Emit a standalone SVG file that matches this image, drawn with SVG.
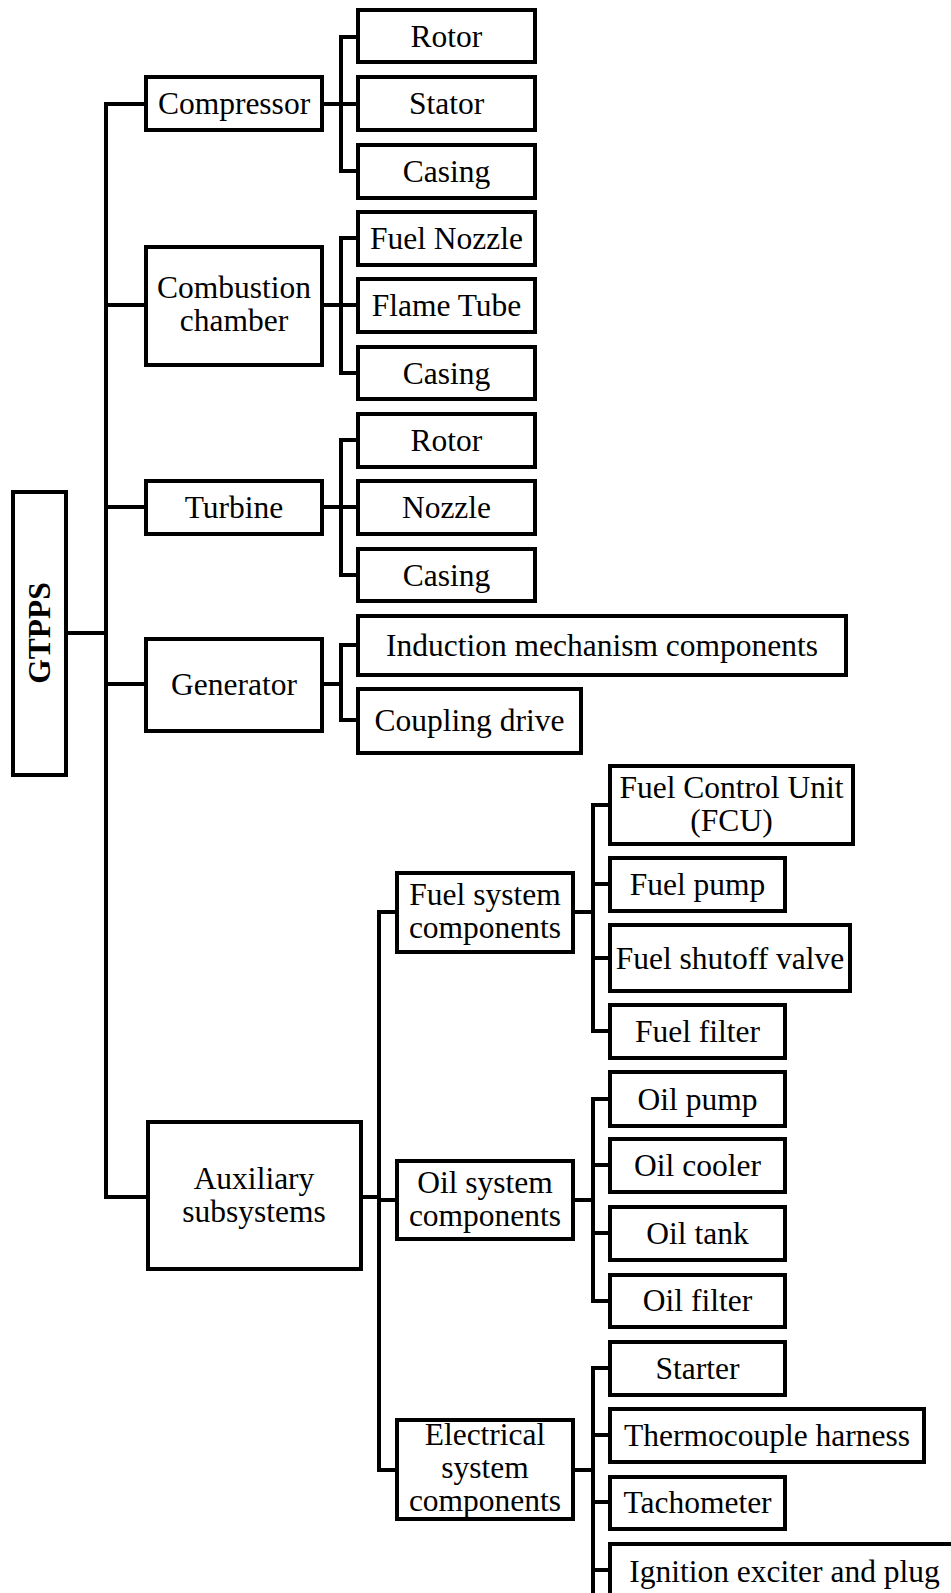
<svg xmlns="http://www.w3.org/2000/svg" width="951" height="1593" viewBox="0 0 951 1593">
  <style>
    .box { fill: #fff; stroke: #000; stroke-width: 4; }
    .lbl { font-family: "Liberation Serif", "Times New Roman", serif; font-size: 31.5px; fill: #000; text-anchor: middle; }
    .root { font-weight: bold; }
    .wire { fill: none; stroke: #000; stroke-width: 4; stroke-linecap: square; stroke-linejoin: miter; }
  </style>
  <rect width="951" height="1593" fill="#fff"/>

  <!-- tree connectors -->
  <g id="connectors" class="wire">
    <!-- root trunk -->
    <path d="M66 633H106M106 104V1197M106 104H146M106 305H146M106 507H146M106 684H146M106 1197H148"/>
    <!-- compressor -->
    <path d="M322 104H358M341 37V171M341 37H358M341 171H358"/>
    <!-- combustion chamber -->
    <path d="M322 305H358M341 238V373M341 238H358M341 373H358"/>
    <!-- turbine -->
    <path d="M322 507H358M341 440V575M341 440H358M341 575H358"/>
    <!-- generator -->
    <path d="M322 684H341M341 645V720M341 645H358M341 720H358"/>
    <!-- auxiliary subsystems -->
    <path d="M361 1197H379M379 912V1470M379 912H397M379 1200H397M379 1470H397"/>
    <!-- fuel system -->
    <path d="M573 912H593M593 805V1031M593 805H610M593 884H610M593 958H610M593 1031H610"/>
    <!-- oil system -->
    <path d="M573 1200H593M593 1099V1301M593 1099H610M593 1165H610M593 1233H610M593 1301H610"/>
    <!-- electrical system -->
    <path d="M573 1470H593M593 1368V1600M593 1368H610M593 1435H610M593 1502H610M593 1570H610"/>
  </g>

  <!-- root -->
  <g id="gtpps">
    <rect class="box" x="13" y="492" width="53" height="283"/>
    <text class="lbl root" transform="translate(50,633) rotate(-90)">GTPPS</text>
  </g>

  <!-- first level -->
  <g id="compressor">
    <rect class="box" x="146" y="77" width="176" height="53"/>
    <text class="lbl" x="234" y="114">Compressor</text>
  </g>
  <g id="combustion-chamber">
    <rect class="box" x="146" y="247" width="176" height="118"/>
    <text class="lbl" x="234" y="298">Combustion</text>
    <text class="lbl" x="234" y="331">chamber</text>
  </g>
  <g id="turbine">
    <rect class="box" x="146" y="481" width="176" height="53"/>
    <text class="lbl" x="234" y="518">Turbine</text>
  </g>
  <g id="generator">
    <rect class="box" x="146" y="639" width="176" height="92"/>
    <text class="lbl" x="234" y="695">Generator</text>
  </g>
  <g id="auxiliary-subsystems">
    <rect class="box" x="148" y="1122" width="213" height="147"/>
    <text class="lbl" x="254" y="1189">Auxiliary</text>
    <text class="lbl" x="254" y="1222">subsystems</text>
  </g>

  <!-- compressor parts -->
  <g id="compressor-rotor">
    <rect class="box" x="358" y="10" width="177" height="52"/>
    <text class="lbl" x="446.5" y="47">Rotor</text>
  </g>
  <g id="compressor-stator">
    <rect class="box" x="358" y="77" width="177" height="53"/>
    <text class="lbl" x="446.5" y="114">Stator</text>
  </g>
  <g id="compressor-casing">
    <rect class="box" x="358" y="145" width="177" height="53"/>
    <text class="lbl" x="446.5" y="182">Casing</text>
  </g>

  <!-- combustion chamber parts -->
  <g id="fuel-nozzle">
    <rect class="box" x="358" y="212" width="177" height="53"/>
    <text class="lbl" x="446.5" y="249">Fuel Nozzle</text>
  </g>
  <g id="flame-tube">
    <rect class="box" x="358" y="279" width="177" height="53"/>
    <text class="lbl" x="446.5" y="316">Flame Tube</text>
  </g>
  <g id="combustion-casing">
    <rect class="box" x="358" y="347" width="177" height="52"/>
    <text class="lbl" x="446.5" y="384">Casing</text>
  </g>

  <!-- turbine parts -->
  <g id="turbine-rotor">
    <rect class="box" x="358" y="414" width="177" height="53"/>
    <text class="lbl" x="446.5" y="451">Rotor</text>
  </g>
  <g id="turbine-nozzle">
    <rect class="box" x="358" y="481" width="177" height="53"/>
    <text class="lbl" x="446.5" y="518">Nozzle</text>
  </g>
  <g id="turbine-casing">
    <rect class="box" x="358" y="549" width="177" height="52"/>
    <text class="lbl" x="446.5" y="586">Casing</text>
  </g>

  <!-- generator parts -->
  <g id="induction-mechanism">
    <rect class="box" x="358" y="616" width="488" height="59"/>
    <text class="lbl" x="602" y="656">Induction mechanism components</text>
  </g>
  <g id="coupling-drive">
    <rect class="box" x="358" y="689" width="223" height="64"/>
    <text class="lbl" x="469.5" y="731">Coupling drive</text>
  </g>

  <!-- auxiliary second level -->
  <g id="fuel-system">
    <rect class="box" x="397" y="873" width="176" height="79"/>
    <text class="lbl" x="485" y="905">Fuel system</text>
    <text class="lbl" x="485" y="938">components</text>
  </g>
  <g id="oil-system">
    <rect class="box" x="397" y="1161" width="176" height="78"/>
    <text class="lbl" x="485" y="1193">Oil system</text>
    <text class="lbl" x="485" y="1226">components</text>
  </g>
  <g id="electrical-system">
    <rect class="box" x="397" y="1420" width="176" height="99"/>
    <text class="lbl" x="485" y="1445">Electrical</text>
    <text class="lbl" x="485" y="1478">system</text>
    <text class="lbl" x="485" y="1511">components</text>
  </g>

  <!-- fuel system parts -->
  <g id="fcu">
    <rect class="box" x="610" y="766" width="243" height="78"/>
    <text class="lbl" x="731.5" y="798">Fuel Control Unit</text>
    <text class="lbl" x="731.5" y="831">(FCU)</text>
  </g>
  <g id="fuel-pump">
    <rect class="box" x="610" y="858" width="175" height="53"/>
    <text class="lbl" x="697.5" y="895">Fuel pump</text>
  </g>
  <g id="fuel-shutoff-valve">
    <rect class="box" x="610" y="925" width="240" height="66"/>
    <text class="lbl" x="730" y="969">Fuel shutoff valve</text>
  </g>
  <g id="fuel-filter">
    <rect class="box" x="610" y="1005" width="175" height="53"/>
    <text class="lbl" x="697.5" y="1042">Fuel filter</text>
  </g>

  <!-- oil system parts -->
  <g id="oil-pump">
    <rect class="box" x="610" y="1072" width="175" height="54"/>
    <text class="lbl" x="697.5" y="1110">Oil pump</text>
  </g>
  <g id="oil-cooler">
    <rect class="box" x="610" y="1139" width="175" height="53"/>
    <text class="lbl" x="697.5" y="1176">Oil cooler</text>
  </g>
  <g id="oil-tank">
    <rect class="box" x="610" y="1207" width="175" height="53"/>
    <text class="lbl" x="697.5" y="1244">Oil tank</text>
  </g>
  <g id="oil-filter">
    <rect class="box" x="610" y="1275" width="175" height="52"/>
    <text class="lbl" x="697.5" y="1311">Oil filter</text>
  </g>

  <!-- electrical system parts -->
  <g id="starter">
    <rect class="box" x="610" y="1342" width="175" height="53"/>
    <text class="lbl" x="697.5" y="1379">Starter</text>
  </g>
  <g id="thermocouple-harness">
    <rect class="box" x="610" y="1409" width="314" height="53"/>
    <text class="lbl" x="767" y="1446">Thermocouple harness</text>
  </g>
  <g id="tachometer">
    <rect class="box" x="610" y="1477" width="175" height="52"/>
    <text class="lbl" x="697.5" y="1513">Tachometer</text>
  </g>
  <g id="ignition-exciter">
    <rect class="box" x="610" y="1544" width="349" height="90"/>
    <text class="lbl" x="784.5" y="1582">Ignition exciter and plug</text>
  </g>
</svg>
